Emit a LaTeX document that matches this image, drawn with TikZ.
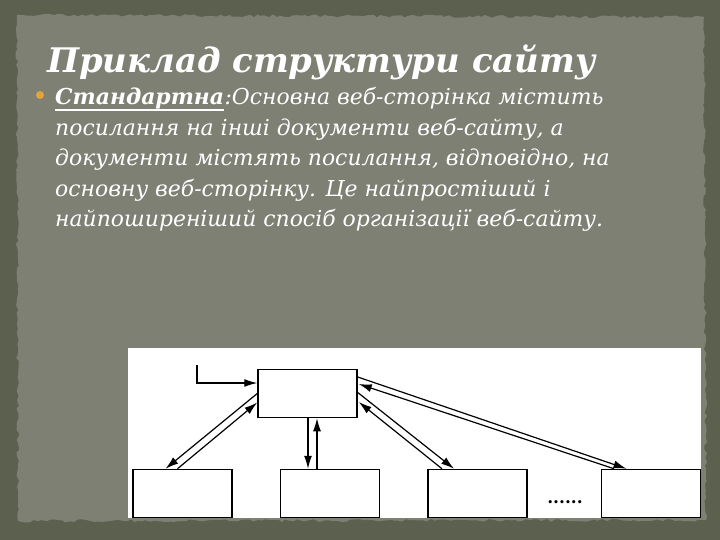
\documentclass[tikz,border=0pt]{standalone}
\usepackage{fontspec}
\setmainfont{DejaVu Serif}
\usetikzlibrary{arrows.meta,calc,decorations.pathmorphing}
\definecolor{framegreen}{HTML}{5C604F}
\definecolor{panelgray}{HTML}{7E8074}
\definecolor{bulletdot}{HTML}{E3A43C}
\tikzset{
  page/.style={draw=black,line width=1.5bp,fill=white,minimum width=99bp,
    minimum height=48bp,inner sep=0pt},
  link/.style={-{Latex[length=13bp,width=8bp]},line width=1.2bp},
  bodytext/.style={anchor=base west,inner sep=0pt,text=white,
    font=\itshape\fontsize{22}{26}\selectfont},
}
\begin{document}
\begin{tikzpicture}[x=1bp,y=-1bp]
  \useasboundingbox (0,0) rectangle (720,540);
  \fill[framegreen] (0,0) rectangle (720,540);
  \pgfmathsetseed{11}
  \fill[panelgray,decorate,decoration={random steps,segment length=4bp,amplitude=1.5bp}]
    (17,15) -- (704,17) -- (706,520) -- (18,521) -- cycle;
  % title and text
  \node[anchor=base west,inner sep=0pt,text=white,
    font=\bfseries\itshape\fontsize{34}{40}\selectfont] (title) at (47,73)
    {Приклад структури сайту};
  \fill[bulletdot] (40,95) circle (4bp);
  \node[bodytext,font=\bfseries\itshape\fontsize{22}{26}\selectfont] (std) at (55,105) {Стандартна};
  \draw[white,line width=1.3bp] ($(std.base west)+(0,5)$) -- ($(std.base east)+(0,5)$);
  \node[bodytext] (line1) at (std.base east) {:Основна веб-сторінка містить};
  \node[bodytext] (line2) at (55,135.5) {посилання на інші документи веб-сайту, а};
  \node[bodytext] (line3) at (55,166) {документи містять посилання, відповідно, на};
  \node[bodytext] (line4) at (55,196.5) {основну веб-сторінку. Це найпростіший і};
  \node[bodytext] (line5) at (55,227) {найпоширеніший спосіб організації веб-сайту.};
  % diagram
  \fill[white] (128,348) rectangle (701,518);
  \node[page] (main) at (307.5,393.5) {};
  \node[page] (doc1) at (182.5,493.5) {};
  \node[page] (doc2) at (330,493.5) {};
  \node[page] (doc3) at (477.5,493.5) {};
  \node[page] (doc4) at (651,493.5) {};
  \node[inner sep=0pt,font=\bfseries\fontsize{17}{17}\selectfont] (more) at (565,502) {......};
  \coordinate (entry) at (197,365);
  \coordinate (downtop) at ($(main.south)+(0.5,0)$);
  \coordinate (uptop) at ($(main.south)+(9.5,0)$);
  \draw[link] (entry) |- ($(main.west)+(0,-10.5)$);
  \draw[link] (main.west) -- ($(doc1.north)+(-17,0)$);
  \draw[link] ($(doc1.north)+(-5,0)$) -- ($(main.west)+(0,9)$);
  \draw[link] (downtop) -- (downtop |- doc2.north);
  \draw[link] (uptop |- doc2.north) -- (uptop);
  \draw[link] ($(main.east)+(0,-1)$) -- ($(doc3.north)+(-23.5,0)$);
  \draw[link] ($(doc3.north)+(-35.5,0)$) -- ($(main.east)+(1,8.5)$);
  \draw[link] ($(main.east)+(0,-16.5)$) -- ($(doc4.north)+(-24.5,0)$);
  \draw[link] ($(doc4.north)+(-37,0)$) -- ($(main.east)+(1,-9.5)$);
\end{tikzpicture}
\end{document}
